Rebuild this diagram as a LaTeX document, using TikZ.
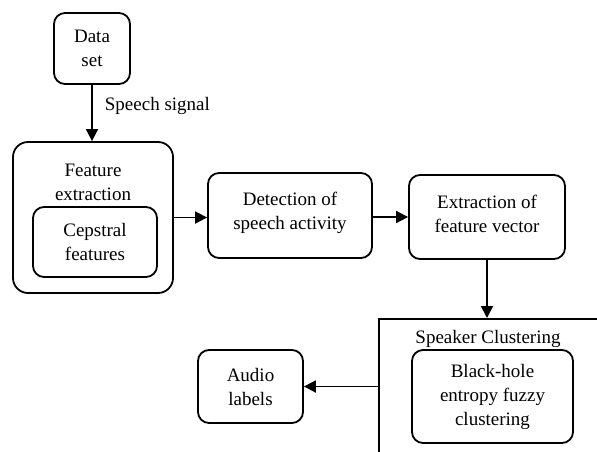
\documentclass[tikz,border=0pt]{standalone}
\usepackage{fontspec}
\setmainfont{Liberation Serif}
\usetikzlibrary{arrows.meta, positioning}

\begin{document}
\begin{tikzpicture}[x=1pt, y=-1pt,
	font=\fontsize{19}{24}\selectfont,
	blockbox/.style={draw, rounded corners=11pt, line width=1.8pt, align=center, inner sep=0pt},
	caption/.style={align=center, inner sep=0pt},
	flow/.style={-{Triangle[length=12pt, width=12pt]}, line width=1.8pt}]
	\clip (0,0) rectangle (597,451);
	% input and front end
	\node[blockbox, minimum width=76pt, minimum height=71pt] (data) at (92,48.5) {Data\\set};
	\node[blockbox, rounded corners=15pt, minimum width=160pt, minimum height=151pt] (feat) at (93,217.5) {};
	\node[caption] (feattitle) at (93,182) {Feature\\extraction};
	\node[blockbox, minimum width=124pt, minimum height=70pt] (ceps) at (95,242) {Cepstral\\features};
	\node[blockbox, minimum width=164pt, minimum height=85pt] (detect) at (290,215.5) {Detection of\\speech activity\vspace{6pt}};
	\node[blockbox, minimum width=156pt, minimum height=84pt] (extract) at (487,217) {Extraction of\\feature vector\vspace{6pt}};
	% clustering stage
	\node[draw, line width=1.8pt, minimum width=260pt, minimum height=170pt, anchor=north west, inner sep=0pt] (clust) at (378,318) {};
	\node[caption] (clusttitle) at (488,339) {Speaker Clustering};
	\node[blockbox, minimum width=161pt, minimum height=93pt] (bhefc) at (492.5,396.5) {\vspace{4pt}Black-hole\\entropy fuzzy\\clustering};
	\node[blockbox, minimum width=105pt, minimum height=73pt] (audio) at (250.5,386.5) {Audio\\labels};
	% connectors
	\draw[flow] (data.south) -- node[caption, anchor=west, pos=0.38, xshift=12pt] {Speech signal} (data.south |- feat.north);
	\draw[flow] (feat.east) -- (feat.east -| detect.west);
	\draw[flow] (extract.west -| detect.east) -- (extract.west);
	\draw[flow] (extract.south) -- (extract.south |- clust.north);
	\draw[flow] (clust.west |- audio.east) -- (audio.east);
\end{tikzpicture}
\end{document}
